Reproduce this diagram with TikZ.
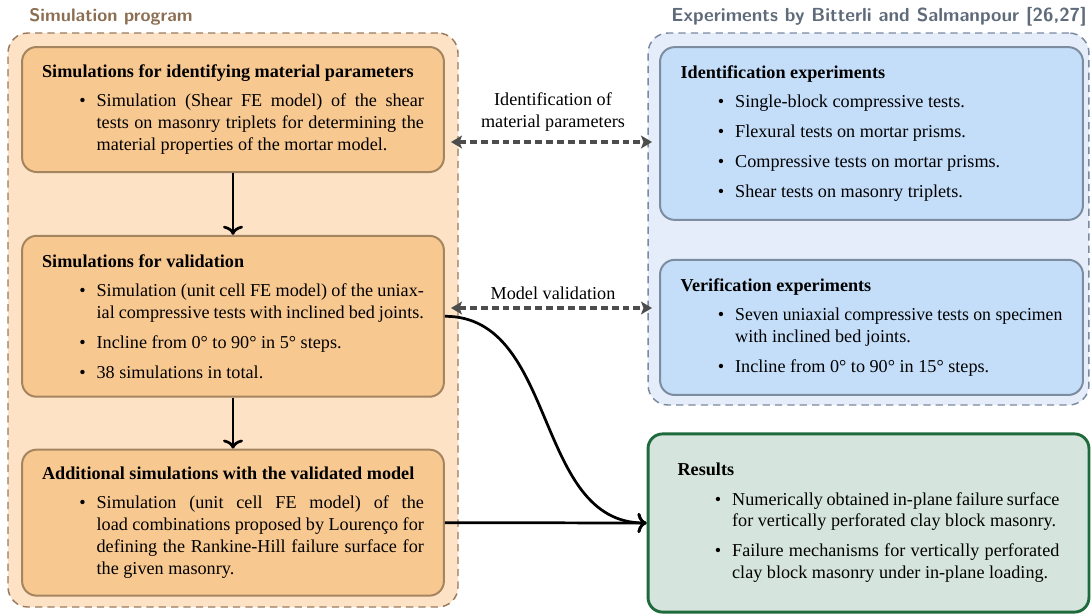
\documentclass[tikz,border=0pt]{standalone}
\usepackage{fontspec}
\setmainfont{Liberation Serif}
\usepackage{enumitem}
\usepackage{graphicx}
\usepackage{xcolor}
\usetikzlibrary{arrows.meta,positioning,calc}

\definecolor{simtitle}{HTML}{8C6E52}
\definecolor{exptitle}{HTML}{5F6B7A}
\definecolor{simbg}{HTML}{FDE2C6}
\definecolor{simline}{HTML}{9A7A5C}
\definecolor{simfill}{HTML}{F8C891}
\definecolor{simdraw}{HTML}{A5855F}
\definecolor{expbg}{HTML}{E5EDFA}
\definecolor{expline}{HTML}{7A8AA0}
\definecolor{expfill}{HTML}{C4DEFA}
\definecolor{expdraw}{HTML}{7C8DA0}
\definecolor{resfill}{HTML}{D5E5DD}
\definecolor{resdraw}{HTML}{1F6A3C}
\definecolor{arrgray}{HTML}{4D4D4D}

\newcommand{\blist}[1]{\begin{itemize}[leftmargin=30pt,labelsep=6pt,topsep=4pt,itemsep=4.5pt,parsep=0pt,partopsep=0pt]#1\end{itemize}}

\begin{document}
\begin{tikzpicture}[
  x=0.55pt, y=-0.55pt,
  grp/.style={rounded corners=11pt, dash pattern=on 4pt off 2.8pt, line width=0.8pt},
  simgrp/.style={grp, draw=simline, fill=simbg},
  expgrp/.style={grp, draw=expline, fill=expbg},
  gtitle/.style={font=\sffamily\bfseries},
  box/.style={rounded corners=8pt, line width=1.1pt, text width=210pt, inner xsep=11pt, align=justify, font=\normalsize},
  simbox/.style={box, draw=simdraw, fill=simfill, minimum width=232pt},
  expbox/.style={box, draw=expdraw, fill=expfill, minimum width=232.6pt},
  resbox/.style={box, draw=resdraw, fill=resfill, line width=1.6pt, minimum width=242.5pt},
  lbl/.style={align=center, font=\normalsize},
  flow/.style={-{Computer Modern Rightarrow[length=5pt,width=11pt]}, line width=1.5pt},
  dbl/.style={{Stealth[length=6pt,width=7pt,inset=1.3pt]}-{Stealth[length=6pt,width=7pt,inset=1.3pt]}, line width=1.8pt, dash pattern=on 3.8pt off 2.2pt, draw=arrgray},
]
\useasboundingbox (0,0) rectangle (1091,615);

% groups
\node[simgrp, minimum width=247.5pt, minimum height=315.7pt] (simg) at (233,320) {};
\node[expgrp, minimum width=242.5pt, minimum height=204.6pt] (expg) at (868.5,219) {};
\node[gtitle, text=simtitle] (simt) at (111,17) {Simulation program};
\node[gtitle, text=exptitle, font=\sffamily\bfseries\fontsize{10.4}{12}\selectfont] (expt) at (879,17) {Experiments by Bitterli and Salmanpour [26,27]};

% simulation program
\node[simbox, minimum height=68.75pt] (b1) at (233,109.5) {\textbf{Simulations for identifying material parameters}\par
  \blist{\item Simulation (Shear FE model) of the shear tests on masonry triplets for determining the material properties of the mortar model.}};
\node[simbox, minimum height=88.5pt, below=34pt of b1] (b2) {\textbf{Simulations for validation}\par
  \blist{\item Simulation (unit cell FE model) of the uniaxial compressive tests with inclined bed joints.
  \item Incline from 0° to 90° in 5° steps.
  \item 38 simulations in total.}};
\node[simbox, minimum height=80.3pt, below=28pt of b2] (b3) {\textbf{Additional simulations with the validated model}\par
  \blist{\item Simulation (unit cell FE model) of the load combinations proposed by Lourenço for defining the Rankine-Hill failure surface for the given masonry.}};

% experiments
\node[expbox, minimum height=95pt] (idb) at (871.5,133.5) {\textbf{Identification experiments}\par
  \blist{\item Single-block compressive tests.
  \item Flexural tests on mortar prisms.
  \item Compressive tests on mortar prisms.
  \item Shear tests on masonry triplets.}};
\node[expbox, minimum height=74.3pt, below=20.9pt of idb] (ver) {\textbf{Verification experiments}\par
  \blist{\item \resizebox{\linewidth}{\height}{Seven uniaxial compressive tests on specimen}\newline with inclined bed joints.
  \item Incline from 0° to 90° in 15° steps.}};

% results
\node[resbox, minimum height=98pt] (res) at (868.5,523) {\textbf{Results}\par
  \blist{\item Numerically obtained in-plane failure surface for vertically perforated clay block masonry.
  \item Failure mechanisms for vertically perforated clay block masonry under in-plane loading.}};

% connectors
\coordinate (ida) at (451,142);
\coordinate (idz) at (652,142);
\coordinate (vala) at (451,308);
\coordinate (valz) at (652,308);
\draw[dbl] (ida) -- (idz);
\draw[dbl] (vala) -- (valz);
\node[lbl] (idl) at (553,112) {Identification of\\material parameters};
\node[lbl] (vall) at (553,293) {Model validation};

\draw[flow] (b1) -- (b2);
\draw[flow] (b2) -- (b3);
\draw[flow] (b2.east) to[out=0, in=180] (res.west);
\draw[flow] (b3.east) -- (res.west);
\end{tikzpicture}
\end{document}
